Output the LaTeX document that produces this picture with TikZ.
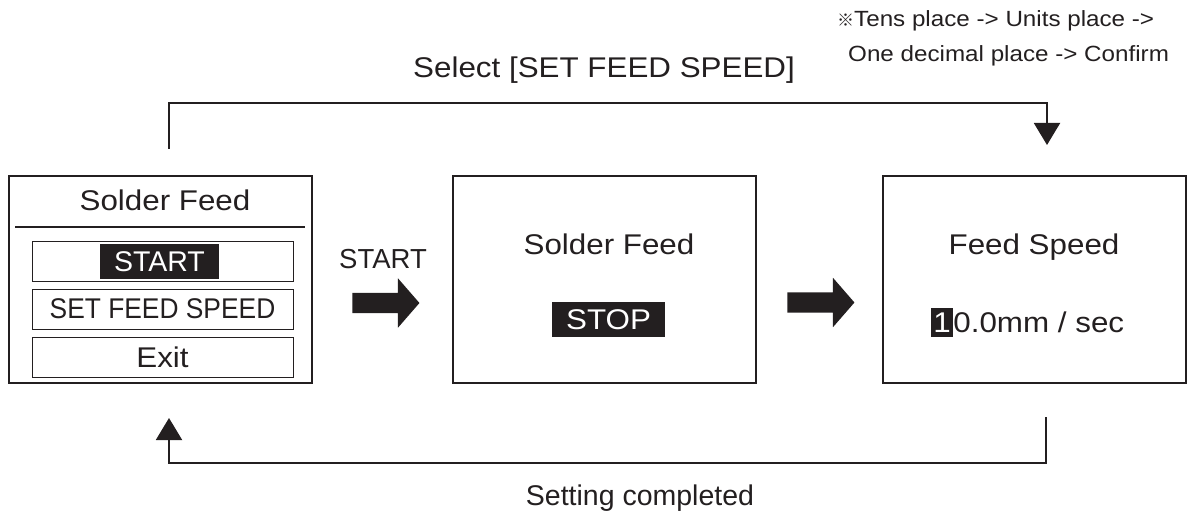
\documentclass[tikz,border=0pt]{standalone}
\usepackage{fontspec}
\setmainfont{Liberation Sans}[FakeStretch=1.1]
\newfontfamily\plainfont{Liberation Sans}
\newfontfamily\condfont{Liberation Sans}[FakeStretch=0.925]
\newfontfamily\markfont{Noto Sans CJK JP}
\usetikzlibrary{arrows.meta,positioning,shapes.arrows}
\definecolor{ink}{RGB}{35,31,32}

\begin{document}
\begin{tikzpicture}[x=1pt,y=-1pt,color=ink,font=\fontsize{28.5}{34}\selectfont]
    \tikzstyle{screen}=[rectangle,draw,line width=2pt,minimum width=303pt,minimum height=207pt,inner sep=0]
    \tikzstyle{item}=[rectangle,draw,line width=0.9pt,minimum width=261pt,minimum height=40pt,inner sep=0]
    \tikzstyle{hl}=[rectangle,fill=ink,text=white,inner sep=0,minimum height=35pt]
    \tikzstyle{bigarrow}=[single arrow,fill=ink,inner xsep=0,inner ysep=10pt,minimum height=67pt,single arrow head extend=14.5pt,single arrow tip angle=98]
    \tikzstyle{flow}=[line width=2pt,-{Triangle[length=22pt,width=26pt]}]
    \tikzstyle{note}=[font=\fontsize{22}{26}\selectfont,anchor=base west,inner sep=0]
    \useasboundingbox (0,0) rectangle (1191,524);
    % screens
    \node [screen] (menu) at (160,279.5) {};
    \node [screen] (run) at (604,279.5) {};
    \node [screen] (speed) at (1034.5,279.5) {};
    % menu screen
    \node [anchor=base] (menutitle) at (165,210) {Solder Feed};
    \coordinate (sepleft) at (15,227);
    \coordinate (sepright) at (305,227);
    \draw [line width=1.5pt] (sepleft) -- (sepright);
    \node [item] (item1) at (162.5,261) {};
    \node [item] (item2) at (162.5,309) {\condfont SET FEED SPEED};
    \node [item] (item3) at (162.5,357) {Exit};
    \node [hl,minimum width=119pt,font=\plainfont\fontsize{28.5}{34}\selectfont] (startsel) at (159.5,261.5) {START};
    % running screen
    \node [anchor=base] (runtitle) at (609,254) {Solder Feed};
    \node [hl,minimum width=113pt] (stopsel) at (608.5,319.5) {STOP};
    % speed screen
    \node [anchor=base] (speedtitle) at (1034,254) {Feed Speed};
    \node [hl,minimum width=22pt,minimum height=29pt] (digit) at (942,322.5) {1};
    \node [base right=0pt of digit,inner sep=0] (speedval) {0.0mm / sec};
    % block arrows
    \node [bigarrow] (go1) at (381.5,303) {};
    \node [bigarrow] (go2) at (816.5,302.5) {};
    \node [anchor=base,font=\plainfont\fontsize{27.5}{32}\selectfont] (startlbl) at (383,268) {START};
    % loop back
    \coordinate (selfrom) at (169,149);
    \coordinate (seltop) at (169,103);
    \coordinate (selto) at (1047,145);
    \draw [flow] (selfrom) -- (seltop) -| (selto);
    \node [anchor=base] (sellbl) at (604,78) {Select [SET FEED SPEED]};
    \coordinate (donefrom) at (1046,417);
    \coordinate (donebot) at (1046,463);
    \coordinate (doneto) at (169,418);
    \draw [flow] (donefrom) -- (donebot) -| (doneto);
    \node [anchor=base,font=\plainfont\fontsize{28.5}{34}\selectfont] (donelbl) at (640,505) {Setting completed};
    % note
    \node [note] (note1) at (837,27) {{\markfont\fontsize{17}{17}\selectfont ※}Tens place -> Units place ->};
    \node [note] (note2) at (848,62) {One decimal place -> Confirm};
  \end{tikzpicture}
\end{document}
